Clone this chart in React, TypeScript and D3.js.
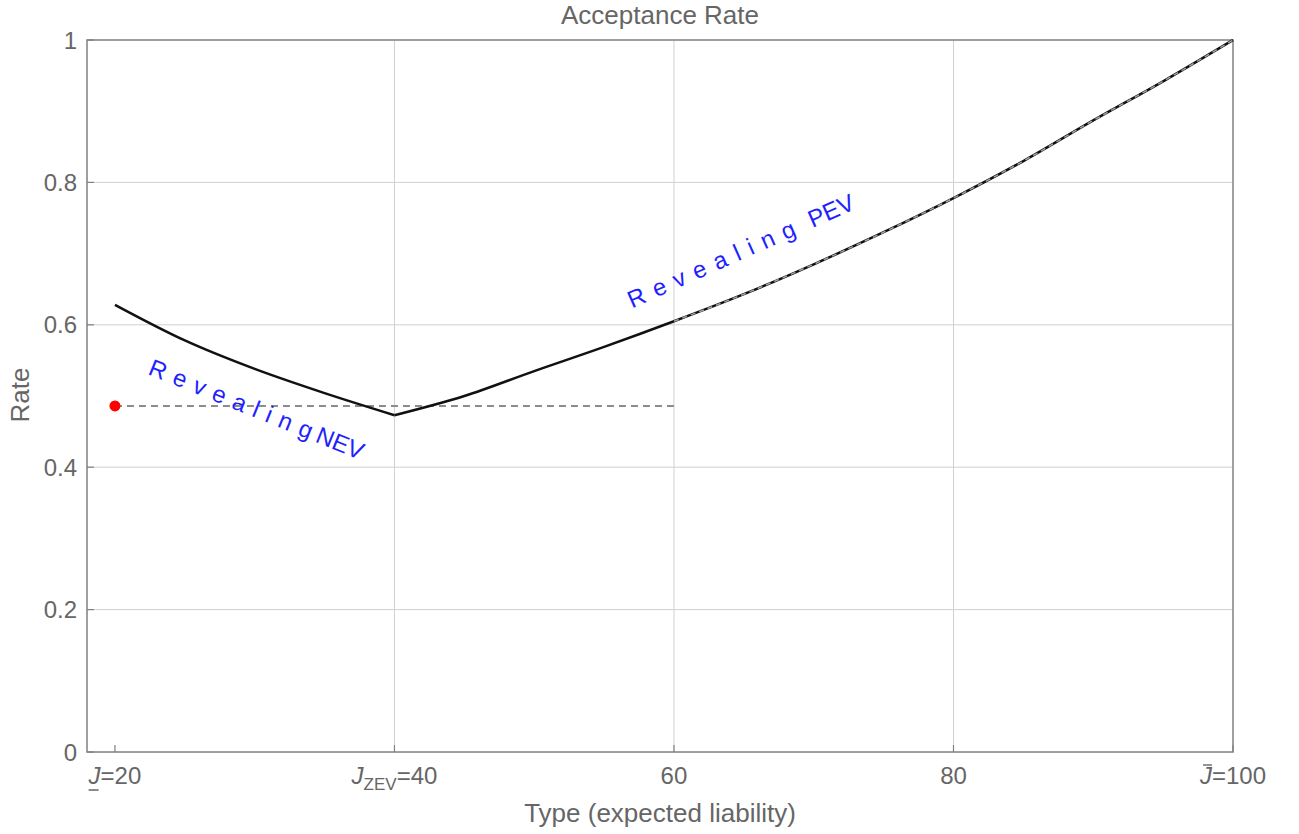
import {useEffect, useRef} from 'react';
import * as d3 from 'd3';

const [W, H] = [1299, 834];
const M = {left: 87, right: 1233, top: 40, bottom: 752};

// x ticks and their labels
const xTicks = [20, 40, 60, 80, 100];
const yTicks = [0, 0.2, 0.4, 0.6, 0.8, 1];

// NEV branch (revealing, left part)
const nevX = [20, 25, 30, 35, 40];
const nevY = [0.628, 0.578, 0.538, 0.504, 0.473];

// PEV branch (revealing, right part)
const pevX = [40, 45, 50, 55, 60, 65, 70, 75, 80, 85, 90, 95, 100];
const pevY = [0.473, 0.5, 0.535, 0.569, 0.605, 0.643, 0.685, 0.73, 0.778, 0.83, 0.887, 0.942, 1.0];

// pooling level (dashed) and the red point
const poolX = [20, 60];
const poolY = 0.486;
const dotX = 20;

const FONT = '"Liberation Sans", Arial, sans-serif';
const GRAY = '#666';

function App() {
    const svgRef = useRef<SVGSVGElement>(null);

    useEffect(() => {
        const svg = d3.select(svgRef.current);
        svg.selectAll('*').remove();

        const x = d3.scaleLinear().domain([18, 100]).range([M.left, M.right]);
        const y = d3.scaleLinear().domain([0, 1]).range([M.bottom, M.top]);

        // grid
        const grid = svg.append('g');
        grid.selectAll('line.gx').data(xTicks.filter(d => d > 20 && d < 100)).enter().append('line')
            .attr('x1', d => x(d)).attr('x2', d => x(d))
            .attr('y1', M.top).attr('y2', M.bottom)
            .attr('stroke', '#d0d0d0').attr('stroke-width', 1);
        grid.selectAll('line.gy').data(yTicks.filter(d => d > 0 && d < 1)).enter().append('line')
            .attr('x1', M.left).attr('x2', M.right)
            .attr('y1', d => y(d)).attr('y2', d => y(d))
            .attr('stroke', '#d0d0d0').attr('stroke-width', 1);

        // frame
        svg.append('rect')
            .attr('x', M.left).attr('y', M.top)
            .attr('width', M.right - M.left).attr('height', M.bottom - M.top)
            .attr('fill', 'none').attr('stroke', '#808080').attr('stroke-width', 1.5);

        // tick stubs
        svg.append('g').selectAll('line').data(xTicks).enter().append('line')
            .attr('x1', d => x(d)).attr('x2', d => x(d))
            .attr('y1', M.bottom).attr('y2', M.bottom - 7)
            .attr('stroke', '#808080').attr('stroke-width', 1.2);
        svg.append('g').selectAll('line').data(yTicks).enter().append('line')
            .attr('x1', M.left).attr('x2', M.left + 7)
            .attr('y1', d => y(d)).attr('y2', d => y(d))
            .attr('stroke', '#808080').attr('stroke-width', 1.2);

        // y tick labels
        svg.append('g').selectAll('text').data(yTicks).enter().append('text')
            .attr('x', M.left - 10).attr('y', d => y(d) + 8.5)
            .attr('text-anchor', 'end')
            .style('font-family', FONT).style('font-size', '24px').style('fill', GRAY)
            .text(d => d === 0 || d === 1 ? String(d) : d.toFixed(1));

        // x tick labels
        const xl = svg.append('g')
            .style('font-family', FONT).style('font-size', '24px').style('fill', GRAY);
        const ly = M.bottom + 32;
        // J=20 with underbar
        const t20 = xl.append('text').attr('x', x(20)).attr('y', ly).attr('text-anchor', 'middle');
        t20.append('tspan').style('font-style', 'italic').text('J');
        t20.append('tspan').text('=20');
        const j20 = (t20.node() as SVGTextElement).getExtentOfChar(0);
        xl.append('line')
            .attr('x1', j20.x).attr('x2', j20.x + j20.width - 2)
            .attr('y1', ly + 6).attr('y2', ly + 6)
            .attr('stroke', GRAY).attr('stroke-width', 1.5);
        // J_ZEV=40
        const t40 = xl.append('text').attr('x', x(40)).attr('y', ly).attr('text-anchor', 'middle');
        t40.append('tspan').style('font-style', 'italic').text('J');
        t40.append('tspan').attr('dy', 6).style('font-size', '17px').text('ZEV');
        t40.append('tspan').attr('dy', -6).text('=40');
        xl.append('text').attr('x', x(60)).attr('y', ly).attr('text-anchor', 'middle').text('60');
        xl.append('text').attr('x', x(80)).attr('y', ly).attr('text-anchor', 'middle').text('80');
        // J-bar=100
        const t100 = xl.append('text').attr('x', x(100)).attr('y', ly).attr('text-anchor', 'middle');
        t100.append('tspan').style('font-style', 'italic').text('J');
        t100.append('tspan').text('=100');
        const j100 = (t100.node() as SVGTextElement).getExtentOfChar(0);
        xl.append('line')
            .attr('x1', j100.x + 3).attr('x2', j100.x + j100.width)
            .attr('y1', ly - 19).attr('y2', ly - 19)
            .attr('stroke', GRAY).attr('stroke-width', 1.4);

        // titles
        svg.append('text').attr('x', 660).attr('y', 24).attr('text-anchor', 'middle')
            .style('font-family', FONT).style('font-size', '26px').style('fill', GRAY)
            .text('Acceptance Rate');
        svg.append('text').attr('x', 660).attr('y', 822).attr('text-anchor', 'middle')
            .style('font-family', FONT).style('font-size', '26px').style('fill', GRAY)
            .text('Type (expected liability)');
        svg.append('text').attr('transform', `translate(29,${395}) rotate(-90)`).attr('text-anchor', 'middle')
            .style('font-family', FONT).style('font-size', '26px').style('fill', GRAY)
            .text('Rate');

        const line = d3.line<[number, number]>().x(d => x(d[0])).y(d => y(d[1])).curve(d3.curveMonotoneX);

        // pooling dashed line
        svg.append('line')
            .attr('x1', x(poolX[0])).attr('x2', x(poolX[1]))
            .attr('y1', y(poolY)).attr('y2', y(poolY))
            .attr('stroke', '#8c8c8c').attr('stroke-width', 2).attr('stroke-dasharray', '7,5');

        // NEV and PEV curves
        svg.append('path').datum(nevX.map((v, i) => [v, nevY[i]] as [number, number]))
            .attr('d', line).attr('fill', 'none').attr('stroke', '#111').attr('stroke-width', 2.5);
        svg.append('path').datum(pevX.map((v, i) => [v, pevY[i]] as [number, number]))
            .attr('d', line).attr('fill', 'none').attr('stroke', '#111').attr('stroke-width', 2.5);
        // gray dashed overlay on PEV beyond 60
        svg.append('path').datum(pevX.map((v, i) => [v, pevY[i]] as [number, number]).filter(d => d[0] >= 60))
            .attr('d', line).attr('fill', 'none').attr('stroke', '#a0a0a0').attr('stroke-width', 1.5)
            .attr('stroke-dasharray', '5,4');

        // red point
        svg.append('circle').attr('cx', x(dotX)).attr('cy', y(poolY)).attr('r', 5.5).attr('fill', '#ff0000');

        // curve labels
        const nev = svg.append('text')
            .attr('transform', `translate(${x(22.3)},${y(0.531)}) rotate(22)`)
            .style('font-family', FONT).style('font-size', '24px').style('fill', '#1f1fff');
        nev.append('tspan').style('letter-spacing', '8.5px').text('Revealing');
        nev.append('tspan').attr('dx', -3).text('NEV');

        const pev = svg.append('text')
            .attr('transform', `translate(${x(57.0)},${y(0.623)}) rotate(-24)`)
            .style('font-family', FONT).style('font-size', '24px').style('fill', '#1f1fff');
        pev.append('tspan').style('letter-spacing', '9.3px').text('Revealing');
        pev.append('tspan').attr('dx', 7).text('PEV');
    }, []);

    return (
        <svg ref={svgRef} width={W} height={H}
             style={{position: 'absolute', left: 0, top: 0, background: '#fff'}} />
    );
}

export default App;
